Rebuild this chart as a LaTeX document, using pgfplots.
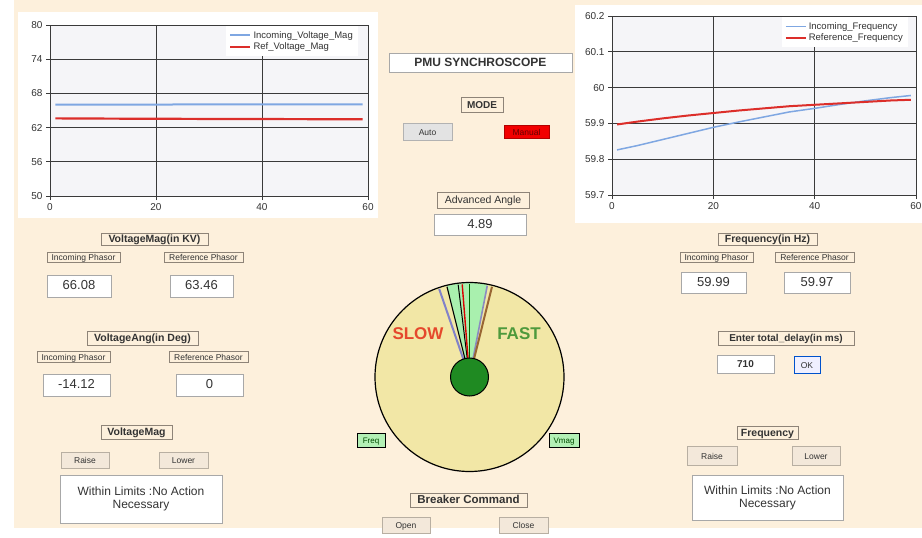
\documentclass[border=0pt]{standalone}
\usepackage{pgfplots}
\pgfplotsset{compat=1.18}
\usepackage{fontspec}
\setmainfont{Liberation Sans}
\usetikzlibrary{calc}

\definecolor{bg}{HTML}{FDF0DC}
\definecolor{plotbg}{HTML}{F5F5F8}
\definecolor{gridc}{HTML}{3A3A3A}
\definecolor{blueline}{HTML}{7FA7E2}
\definecolor{redline}{HTML}{DC2E2A}
\definecolor{lbord}{HTML}{8E8478}
\definecolor{vbord}{HTML}{A8A8A8}
\definecolor{bbord}{HTML}{B8AFA2}
\definecolor{bfill}{HTML}{F3E8DA}
\definecolor{txt}{HTML}{333333}
\definecolor{dial}{HTML}{F2E7A6}
\definecolor{wedge}{HTML}{A9F0AE}
\definecolor{hub}{HTML}{1F8A22}
\definecolor{slowc}{HTML}{E5482C}
\definecolor{fastc}{HTML}{4E9A3C}
\definecolor{tagc}{HTML}{B3F0B5}

\newcommand{\fs}[1]{\fontsize{#1}{#1}\selectfont}
% box from (x1,y1) to (x2,y2), box style, text style, text
\newcommand{\gbox}[7]{%
  \draw[#5] (#1,#2) rectangle (#3,#4);
  \node[inner sep=0pt, text=txt, text height=0.72em, text depth=0pt, #6]
    at ($(#1,#2)!0.5!(#3,#4)$) {#7};}

\tikzset{
  lab/.style={draw=lbord, line width=0.8pt},
  val/.style={draw=vbord, fill=white, line width=0.8pt},
  btn/.style={draw=bbord, fill=bfill, line width=0.8pt},
}

\pgfplotsset{
  gui chart/.style={
    scale only axis,
    anchor=south west,
    xmin=0, xmax=60,
    xtick={0,20,40,60},
    grid=major,
    grid style={gridc, line width=0.8pt},
    axis line style={gridc, line width=0.8pt},
    axis background/.style={fill=plotbg},
    tick align=outside,
    major tick length=4pt,
    tick style={gridc, line width=0.8pt},
    xtick pos=bottom, ytick pos=left,
    ticklabel style={font=\fs{10}, text=txt},
    /pgf/number format/assume math mode=true,
    legend style={font=\fs{9.5}, fill=white, draw=none, text=txt,
                  at={(1,1)}, anchor=north east, yshift=-1pt,
                  row sep=-1pt, inner sep=3pt},
    legend cell align=left,
    legend image code/.code={\draw[##1] (0pt,0pt) -- (20pt,0pt);},
  }
}

\begin{document}
\begin{tikzpicture}[x=1pt, y=-1pt]
\useasboundingbox (0,0) rectangle (922,538);
\fill[white] (0,0) rectangle (922,538);
\fill[bg] (14,0) rectangle (922,528);

% chart panels
\fill[white] (18,12) rectangle (378,218);
\fill[white] (575,5) rectangle (922,223);

% voltage magnitude chart
\begin{axis}[gui chart, at={(50pt,-196pt)}, width=318pt, height=171pt,
  ymin=50, ymax=80, ytick={50,56,62,68,74,80},
  legend style={xshift=-10pt}]
\addplot[blueline, line width=2pt] coordinates {
  (1,66.05) (10,66.05) (20,66.05) (30,66.06) (40,66.06) (50,66.07) (59,66.08)};
\addlegendentry{Incoming\_Voltage\_Mag}
\addplot[redline, line width=2.2pt] coordinates {
  (1,63.62) (10,63.58) (20,63.55) (30,63.52) (40,63.50) (50,63.48) (59,63.46)};
\addlegendentry{Ref\_Voltage\_Mag}
\end{axis}

% frequency chart
\begin{axis}[gui chart, at={(612pt,-195pt)}, width=304pt, height=179pt,
  ymin=59.7, ymax=60.2, ytick={59.7,59.8,59.9,60,60.1,60.2},
  yticklabel style={/pgf/number format/fixed, /pgf/number format/precision=1},
  legend style={xshift=-8pt}]
\addplot[blueline, line width=1.5pt] coordinates {
  (1,59.826) (5,59.838) (10,59.855) (15,59.872) (20,59.889) (25,59.904)
  (30,59.918) (35,59.932) (40,59.942) (45,59.953) (50,59.963) (55,59.972) (59,59.978)};
\addlegendentry{Incoming\_Frequency}
\addplot[redline, line width=2pt] coordinates {
  (1,59.897) (5,59.905) (10,59.914) (15,59.922) (20,59.929) (25,59.936)
  (30,59.942) (35,59.948) (40,59.952) (45,59.956) (50,59.960) (55,59.964) (59,59.966)};
\addlegendentry{Reference\_Frequency}
\end{axis}

% centre column
\gbox{389}{53}{572}{72}{val}{font=\bfseries\fs{12}}{PMU SYNCHROSCOPE}
\gbox{461}{97}{503}{112}{lab}{font=\bfseries\fs{10}}{MODE}
\gbox{403}{123}{452}{140}{draw=gray!60, fill=gray!22, line width=0.8pt}{font=\fs{8.5}}{Auto}
\gbox{504}{125}{549}{138}{draw=red!70!black, fill=red!95!black, line width=0.6pt}{font=\fs{8.5}, text=red!40!black}{Manual}
\gbox{437}{192}{529}{208}{lab}{font=\fs{10.5}}{Advanced Angle}
\gbox{434}{214}{526}{235}{val}{font=\fs{13}}{4.89}

% synchroscope dial
\begin{scope}[shift={(469.5,377)}, y=1pt]
  \fill[dial] (0,0) circle (94.5);
  \fill[wedge] (0,0) -- (104:94) arc (104:79:94) -- cycle;
  \draw[gray!60!blue!70, line width=2pt] (0,0) -- (109:93);
  \draw[black, line width=1.1pt] (0,0) -- (104:93);
  \draw[black, line width=1pt] (0,0) -- (97:93);
  \draw[red!85!black, line width=1.4pt] (0,0) -- (94.5:93);
  \draw[green!40!black, line width=1.2pt] (0,0) -- (90:93);
  \draw[gray!70!blue!70, line width=1.6pt] (0,0) -- (79:93);
  \draw[brown!80!black, line width=2pt] (0,0) -- (76:93);
  \draw[black, line width=1.2pt] (0,0) circle (94.5);
  \fill[hub, draw=black, line width=1pt] (0,0) circle (19);
\end{scope}
\node[text=slowc, font=\bfseries\fs{17}] at (418,334) {SLOW};
\node[text=fastc, font=\bfseries\fs{17}] at (519,334) {FAST};
\gbox{357}{433}{385}{447}{fill=tagc}{font=\fs{8}, text=green!30!black}{Freq}
\gbox{549}{433}{579}{447}{fill=tagc}{font=\fs{8}, text=green!30!black}{Vmag}
\gbox{410}{493}{527}{507}{lab}{font=\bfseries\fs{11.5}}{Breaker Command}
\gbox{382}{517}{430}{533}{btn}{font=\fs{8.5}}{Open}
\gbox{499}{517}{548}{533}{btn}{font=\fs{8.5}}{Close}

% voltage column
\gbox{101}{233}{208}{245}{lab}{font=\bfseries\fs{10.5}}{VoltageMag(in KV)}
\gbox{47}{252}{120}{262}{lab}{font=\fs{8.5}}{Incoming Phasor}
\gbox{164}{252}{243}{262}{lab}{font=\fs{8.5}}{Reference Phasor}
\gbox{47}{275}{111}{297}{val}{font=\fs{13}}{66.08}
\gbox{170}{275}{233}{297}{val}{font=\fs{13}}{63.46}
\gbox{87}{331}{198}{345}{lab}{font=\bfseries\fs{10.5}}{VoltageAng(in Deg)}
\gbox{37}{351}{110}{362}{lab}{font=\fs{8.5}}{Incoming Phasor}
\gbox{169}{351}{248}{362}{lab}{font=\fs{8.5}}{Reference Phasor}
\gbox{43}{374}{110}{396}{val}{font=\fs{13}}{-14.12}
\gbox{176}{374}{243}{396}{val}{font=\fs{13}}{0}
\gbox{101}{425}{172}{439}{lab}{font=\bfseries\fs{10.5}}{VoltageMag}
\gbox{61}{452}{109}{468}{btn}{font=\fs{8.5}}{Raise}
\gbox{159}{452}{208}{468}{btn}{font=\fs{8.5}}{Lower}
\gbox{60}{475}{222}{523}{val}{font=\fs{12}, align=center, text height=, text depth=}{Within Limits :No Action\\[1pt]Necessary}

% frequency column
\gbox{718}{233}{817}{245}{lab}{font=\bfseries\fs{10.5}}{Frequency(in Hz)}
\gbox{680}{252}{753}{262}{lab}{font=\fs{8.5}}{Incoming Phasor}
\gbox{775}{252}{854}{262}{lab}{font=\fs{8.5}}{Reference Phasor}
\gbox{681}{272}{746}{293}{val}{font=\fs{13}}{59.99}
\gbox{784}{272}{850}{293}{val}{font=\fs{13}}{59.97}
\gbox{718}{331}{854}{345}{lab}{font=\bfseries\fs{10}}{Enter total\_delay(in ms)}
\gbox{717}{355}{774}{373}{val}{font=\bfseries\fs{10}}{710}
\gbox{794}{356}{820}{373}{draw=blue!60!cyan!80!black, fill=blue!6, line width=1pt}{font=\fs{8.5}}{OK}
\gbox{737}{426}{798}{439}{lab}{font=\bfseries\fs{10.5}}{Frequency}
\gbox{687}{446}{737}{465}{btn}{font=\fs{8.5}}{Raise}
\gbox{792}{446}{840}{465}{btn}{font=\fs{8.5}}{Lower}
\gbox{692}{475}{843}{520}{val}{font=\fs{12}, align=center, text height=, text depth=}{Within Limits :No Action\\[1pt]Necessary}
\end{tikzpicture}
\end{document}
